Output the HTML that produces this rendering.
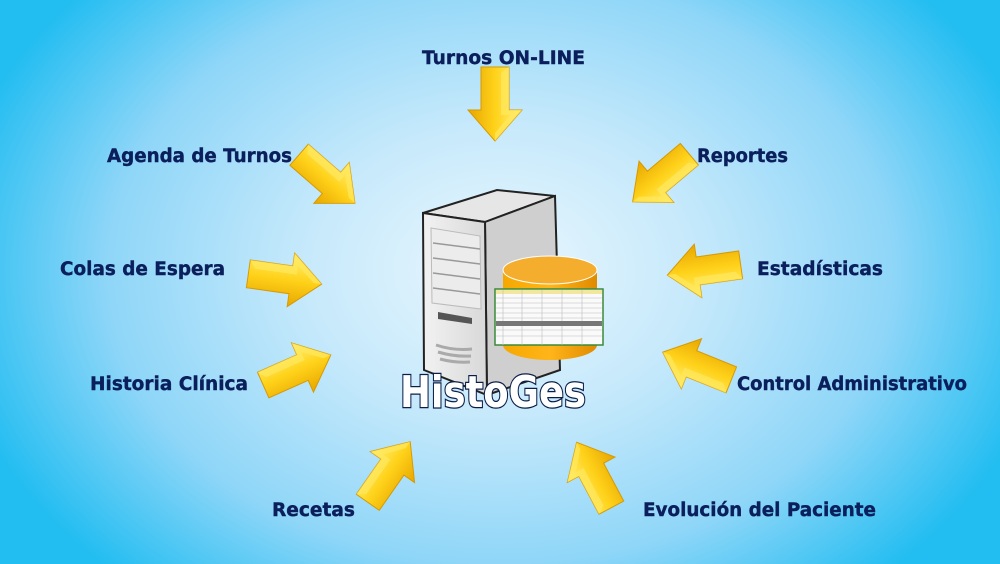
<!DOCTYPE html>
<html><head><meta charset="utf-8"><style>
html,body{margin:0;padding:0;width:1000px;height:564px;overflow:hidden}
body{background:radial-gradient(ellipse 560px 420px at 500px 270px,#eaf7fe 0%,#c6e9fb 35%,#8fd6f8 70%,#22bdf1 100%)}
svg{position:absolute;left:0;top:0}
.t{font-family:"DejaVu Sans","Liberation Sans",sans-serif;font-weight:bold;font-size:18.5px;fill:#0a1f5c;stroke:#0a1f5c;stroke-width:0.4}
</style></head><body>
<svg width="1000" height="564" viewBox="0 0 1000 564">
<defs>
<linearGradient id="ag" x1="0" y1="0" x2="0" y2="1">
<stop offset="0" stop-color="#fff27a"/><stop offset="0.5" stop-color="#ffd21a"/><stop offset="1" stop-color="#e8a600"/></linearGradient>
<g id="ar">
<polygon points="-37,-14 6,-14 6,-27 37,0 6,27 6,14 -37,14" fill="url(#ag)" stroke="#d79a00" stroke-width="1"/>
<polygon points="-37,-14 6,-14 6,-27 37,0 29,0 11,-15 11,-6 -31,-6" fill="#ffe860" opacity="0.7"/>
</g>
<linearGradient id="srv" x1="0" y1="0" x2="1" y2="0"><stop offset="0" stop-color="#f2f2f2"/><stop offset="1" stop-color="#d8d8d8"/></linearGradient>
<linearGradient id="cyl" x1="0" y1="0" x2="1" y2="0"><stop offset="0" stop-color="#f5a800"/><stop offset="0.5" stop-color="#ffb51a"/><stop offset="1" stop-color="#e08a00"/></linearGradient>
</defs>
<use href="#ar" transform="translate(495,104) rotate(90)"/>
<use href="#ar" transform="translate(327,179) rotate(41)"/>
<use href="#ar" transform="translate(285,279) rotate(8)"/>
<use href="#ar" transform="translate(297,370) rotate(-24)"/>
<use href="#ar" transform="translate(389,472) rotate(-55)"/>
<use href="#ar" transform="translate(594,475) rotate(-118)"/>
<use href="#ar" transform="translate(697,366) rotate(202)"/>
<use href="#ar" transform="translate(704,270) rotate(172)"/>
<use href="#ar" transform="translate(661,178) rotate(140)"/>

<polygon points="423,213 497,190 555,196 485,222" fill="#e6e6e6" stroke="#222" stroke-width="2"/>
<polygon points="485,222 555,196 560,370 487,395" fill="#cfcfcf" stroke="#222" stroke-width="2"/>
<polygon points="423,213 485,222 487,395 424,370" fill="url(#srv)" stroke="#222" stroke-width="2"/>
<polygon points="431,228 480,236 481,309 432,303" fill="#ececec" stroke="#bbb"/>
<g stroke="#999" stroke-width="1.5"><line x1="433" y1="243" x2="480" y2="249"/><line x1="433" y1="258" x2="480" y2="264"/><line x1="433" y1="273" x2="480" y2="279"/><line x1="433" y1="288" x2="480" y2="294"/></g>
<polygon points="438,312 472,318 472,324 438,319" fill="#555"/>
<path d="M436 345 q18 6 36 4 M438 352 q17 5 33 4 M440 359 q15 4 30 3" stroke="#aaa" stroke-width="3" fill="none"/>
<path d="M503 270 v75 a47 15 0 0 0 94 0 v-75 z" fill="url(#cyl)"/>
<ellipse cx="550" cy="270" rx="47" ry="14" fill="#f4ad2c" stroke="#fff" stroke-width="1"/>
<rect x="495" y="289" width="108" height="56" fill="#fafafa" stroke="#3a8a3a" stroke-width="1.5"/>
<rect x="496" y="290" width="106" height="4" fill="#f3e7a0"/>
<g stroke="#bbb" stroke-width="0.6">
<line x1="496" y1="298" x2="602" y2="298"/><line x1="496" y1="303" x2="602" y2="303"/><line x1="496" y1="308" x2="602" y2="308"/><line x1="496" y1="313" x2="602" y2="313"/><line x1="496" y1="318" x2="602" y2="318"/><line x1="496" y1="330" x2="602" y2="330"/><line x1="496" y1="336" x2="602" y2="336"/>
<line x1="503" y1="290" x2="503" y2="345"/><line x1="522" y1="290" x2="522" y2="345"/><line x1="542" y1="290" x2="542" y2="345"/><line x1="562" y1="290" x2="562" y2="345"/><line x1="582" y1="290" x2="582" y2="345"/></g>
<rect x="496" y="321" width="106" height="5" fill="#777"/>
<text x="400" y="407" textLength="186" lengthAdjust="spacingAndGlyphs" font-family="DejaVu Sans,Liberation Sans,sans-serif" font-weight="bold" font-size="44" fill="#fff" stroke="#0b1e4a" stroke-width="2.5" paint-order="stroke">HistoGes</text>

<text class="t" x="422" y="64" textLength="163" lengthAdjust="spacingAndGlyphs">Turnos ON-LINE</text>
<text class="t" x="107" y="162" textLength="185" lengthAdjust="spacingAndGlyphs">Agenda de Turnos</text>
<text class="t" x="60" y="275" textLength="165" lengthAdjust="spacingAndGlyphs">Colas de Espera</text>
<text class="t" x="90" y="390" textLength="158" lengthAdjust="spacingAndGlyphs">Historia Clínica</text>
<text class="t" x="272" y="516" textLength="83" lengthAdjust="spacingAndGlyphs">Recetas</text>
<text class="t" x="697" y="162" textLength="91" lengthAdjust="spacingAndGlyphs">Reportes</text>
<text class="t" x="757" y="275" textLength="126" lengthAdjust="spacingAndGlyphs">Estadísticas</text>
<text class="t" x="737" y="390" textLength="230" lengthAdjust="spacingAndGlyphs">Control Administrativo</text>
<text class="t" x="643" y="516" textLength="233" lengthAdjust="spacingAndGlyphs">Evolución del Paciente</text>
</svg>
</body></html>
